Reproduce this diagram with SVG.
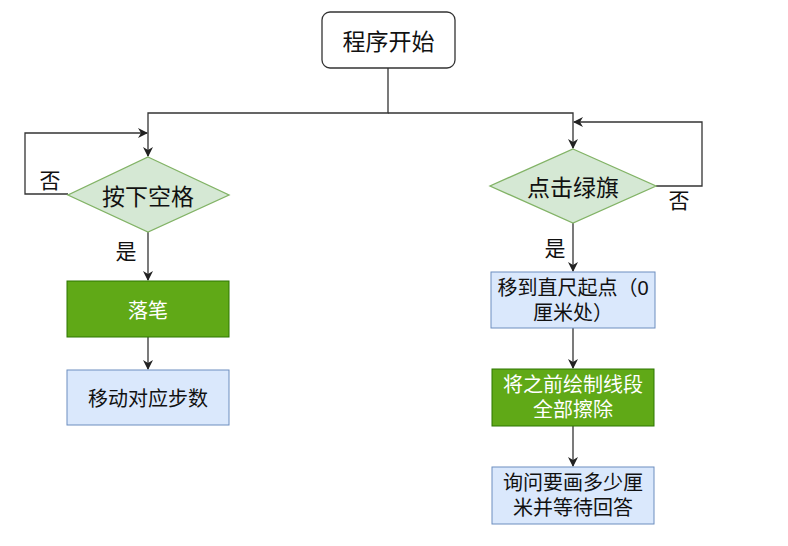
<svg xmlns="http://www.w3.org/2000/svg" width="788" height="546" viewBox="0 0 788 546">
<defs>
<marker id="ah" viewBox="0 0 10 10" refX="9" refY="5" markerWidth="10" markerHeight="10" markerUnits="userSpaceOnUse" orient="auto">
<path d="M0,0 L10,5 L0,10 L3,5 Z" fill="#222"/>
</marker>
<style>
text{font-family:"Noto Sans CJK SC","Noto Sans",sans-serif;text-anchor:middle;dominant-baseline:central;fill:#111}
.big{font-size:23px}
.box{font-size:20px}
.two{font-family:"Liberation Sans","Noto Sans CJK SC",sans-serif;font-size:20px}
.lbl{font-size:21px}
.green{fill:#60a917;stroke:#2d7600;stroke-width:1}
.blue{fill:#dae8fc;stroke:#6c8ebf;stroke-width:1}
.dia{fill:#d5e8d4;stroke:#82b366;stroke-width:1.3}
.wt{fill:#ffffff}
.edge{fill:none;stroke:#333;stroke-width:1.3}
</style>
</defs>
<rect width="788" height="546" fill="#ffffff"/>
<g id="connectors">
<path class="edge" d="M388,68 V113 H148 V156" marker-end="url(#ah)"/>
<path class="edge" d="M388,113 H573 V148" marker-end="url(#ah)"/>
<path class="edge" d="M68,194 H25 V133 H147" marker-end="url(#ah)"/>
<path class="edge" d="M656,186 H702 V122 H574" marker-end="url(#ah)"/>
<path class="edge" d="M148,232 V280" marker-end="url(#ah)"/>
<path class="edge" d="M148,337 V369" marker-end="url(#ah)"/>
<path class="edge" d="M573,223 V271" marker-end="url(#ah)"/>
<path class="edge" d="M573,328 V368" marker-end="url(#ah)"/>
<path class="edge" d="M573,426 V466" marker-end="url(#ah)"/>
<text class="lbl" x="50" y="179">否</text>
<text class="lbl" x="679" y="199">否</text>
<text class="lbl" x="126" y="250">是</text>
<text class="lbl" x="555" y="247">是</text>
</g>
<g id="start">
<rect x="322" y="12" width="133" height="56" rx="8" fill="#fff" stroke="#333" stroke-width="1.3"/>
<text class="big" x="388.5" y="40">程序开始</text>
</g>
<g id="space">
<polygon class="dia" points="148,157 229,195 148,232 68,195"/>
<text class="big" x="148" y="195">按下空格</text>
</g>
<g id="flag">
<polygon class="dia" points="573,149 656,186 573,223 490,186"/>
<text class="big" x="573" y="186">点击绿旗</text>
</g>
<g id="pendown">
<rect class="green" x="67" y="281" width="162" height="56"/>
<text class="box wt" x="148" y="309">落笔</text>
</g>
<g id="move">
<rect class="blue" x="67" y="370" width="162" height="55"/>
<text class="box" x="148" y="397">移动对应步数</text>
</g>
<g id="gotostart">
<rect class="blue" x="491" y="272" width="164" height="56"/>
<text class="two" x="573" y="288">移到直尺起点（0</text>
<text class="two" x="573" y="313">厘米处）</text>
</g>
<g id="erase">
<rect class="green" x="492" y="369" width="162" height="57"/>
<text class="two wt" x="573" y="385">将之前绘制线段</text>
<text class="two wt" x="573" y="410">全部擦除</text>
</g>
<g id="ask">
<rect class="blue" x="492" y="467" width="162" height="57"/>
<text class="two" x="573" y="483">询问要画多少厘</text>
<text class="two" x="573" y="508">米并等待回答</text>
</g>
</svg>
